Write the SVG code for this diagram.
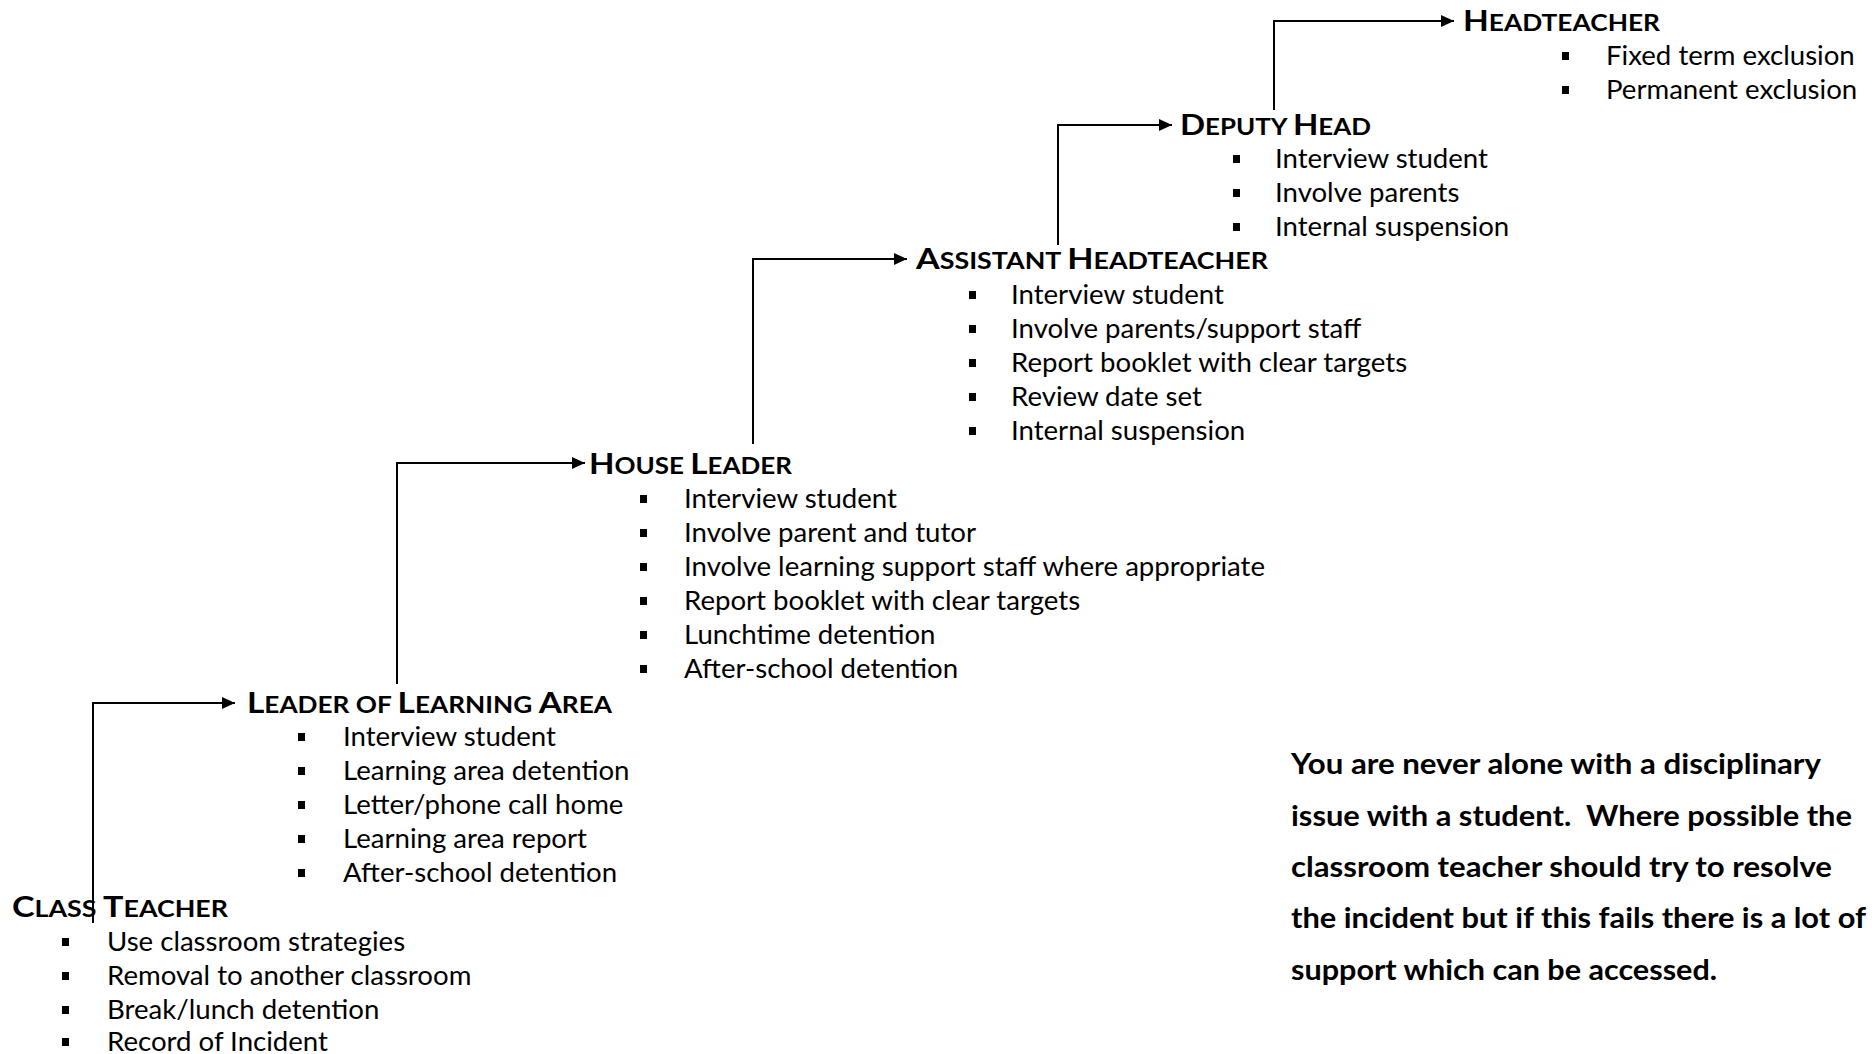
<svg xmlns="http://www.w3.org/2000/svg" width="1872" height="1054" viewBox="0 0 1872 1054">
<style>
text{font-family:Lato,"Liberation Sans",sans-serif;fill:#000}
.h{font-weight:bold;font-size:28px}
.h .s{font-size:22px}
.b{font-size:27.6px}
.p{font-weight:bold;font-size:28.5px}
.conn{fill:none;stroke:#000;stroke-width:2}
</style>
<defs>
<marker id="arr" markerUnits="userSpaceOnUse" markerWidth="14" markerHeight="12" refX="13" refY="6" orient="auto">
<path d="M0,0 L13,6 L0,12 Z" fill="#000"/>
</marker>
<rect id="sq" width="7" height="8"/>
</defs>
<rect width="1872" height="1054" fill="#fff"/>
<g id="connectors">
<path class="conn" d="M93,923 V703 H235" marker-end="url(#arr)"/>
<path class="conn" d="M397,684 V463 H585" marker-end="url(#arr)"/>
<path class="conn" d="M753,444 V259 H907" marker-end="url(#arr)"/>
<path class="conn" d="M1058,245 V125 H1172" marker-end="url(#arr)"/>
<path class="conn" d="M1274,110 V21 H1454" marker-end="url(#arr)"/>
</g>
<g id="class-teacher">
<text class="h" x="12" y="917" textLength="216" lengthAdjust="spacingAndGlyphs">C<tspan class="s">LASS </tspan>T<tspan class="s">EACHER</tspan></text>
<use href="#sq" x="62" y="938"/><text class="b" x="107" y="951">Use classroom strategies</text>
<use href="#sq" x="62" y="972"/><text class="b" x="107" y="985">Removal to another classroom</text>
<use href="#sq" x="62" y="1006"/><text class="b" x="107" y="1019">Break/lunch detention</text>
<use href="#sq" x="62" y="1038"/><text class="b" x="107" y="1051">Record of Incident</text>
</g>
<g id="leader-learning-area">
<text class="h" x="247" y="713" textLength="365" lengthAdjust="spacingAndGlyphs">L<tspan class="s">EADER OF </tspan>L<tspan class="s">EARNING </tspan>A<tspan class="s">REA</tspan></text>
<use href="#sq" x="298" y="733"/><text class="b" x="343" y="746">Interview student</text>
<use href="#sq" x="298" y="767"/><text class="b" x="343" y="780">Learning area detention</text>
<use href="#sq" x="298" y="801"/><text class="b" x="343" y="814">Letter/phone call home</text>
<use href="#sq" x="298" y="835"/><text class="b" x="343" y="848">Learning area report</text>
<use href="#sq" x="298" y="869"/><text class="b" x="343" y="882">After-school detention</text>
</g>
<g id="house-leader">
<text class="h" x="589" y="474" textLength="203" lengthAdjust="spacingAndGlyphs">H<tspan class="s">OUSE </tspan>L<tspan class="s">EADER</tspan></text>
<use href="#sq" x="640" y="495"/><text class="b" x="684" y="508">Interview student</text>
<use href="#sq" x="640" y="529"/><text class="b" x="684" y="542">Involve parent and tutor</text>
<use href="#sq" x="640" y="563"/><text class="b" x="684" y="576">Involve learning support staff where appropriate</text>
<use href="#sq" x="640" y="597"/><text class="b" x="684" y="610">Report booklet with clear targets</text>
<use href="#sq" x="640" y="631"/><text class="b" x="684" y="644">Lunchtime detention</text>
<use href="#sq" x="640" y="665"/><text class="b" x="684" y="678">After-school detention</text>
</g>
<g id="assistant-headteacher">
<text class="h" x="916" y="269" textLength="352" lengthAdjust="spacingAndGlyphs">A<tspan class="s">SSISTANT </tspan>H<tspan class="s">EADTEACHER</tspan></text>
<use href="#sq" x="969" y="291"/><text class="b" x="1011" y="304">Interview student</text>
<use href="#sq" x="969" y="325"/><text class="b" x="1011" y="338">Involve parents/support staff</text>
<use href="#sq" x="969" y="359"/><text class="b" x="1011" y="372">Report booklet with clear targets</text>
<use href="#sq" x="969" y="393"/><text class="b" x="1011" y="406">Review date set</text>
<use href="#sq" x="969" y="427"/><text class="b" x="1011" y="440">Internal suspension</text>
</g>
<g id="deputy-head">
<text class="h" x="1180" y="135" textLength="191" lengthAdjust="spacingAndGlyphs">D<tspan class="s">EPUTY </tspan>H<tspan class="s">EAD</tspan></text>
<use href="#sq" x="1233" y="155"/><text class="b" x="1275" y="168">Interview student</text>
<use href="#sq" x="1233" y="189"/><text class="b" x="1275" y="202">Involve parents</text>
<use href="#sq" x="1233" y="223"/><text class="b" x="1275" y="236">Internal suspension</text>
</g>
<g id="headteacher">
<text class="h" x="1463" y="31" textLength="197" lengthAdjust="spacingAndGlyphs">H<tspan class="s">EADTEACHER</tspan></text>
<use href="#sq" x="1562" y="52"/><text class="b" x="1606" y="65">Fixed term exclusion</text>
<use href="#sq" x="1562" y="86"/><text class="b" x="1606" y="99">Permanent exclusion</text>
</g>
<g id="note">
<text class="p" x="1291" y="774" textLength="530" lengthAdjust="spacingAndGlyphs">You are never alone with a disciplinary</text>
<text class="p" x="1291" y="826" textLength="561" lengthAdjust="spacingAndGlyphs" xml:space="preserve">issue with a student.  Where possible the</text>
<text class="p" x="1291" y="877" textLength="541" lengthAdjust="spacingAndGlyphs">classroom teacher should try to resolve</text>
<text class="p" x="1291" y="928" textLength="575" lengthAdjust="spacingAndGlyphs">the incident but if this fails there is a lot of</text>
<text class="p" x="1291" y="980" textLength="426" lengthAdjust="spacingAndGlyphs">support which can be accessed.</text>
</g>
</svg>
